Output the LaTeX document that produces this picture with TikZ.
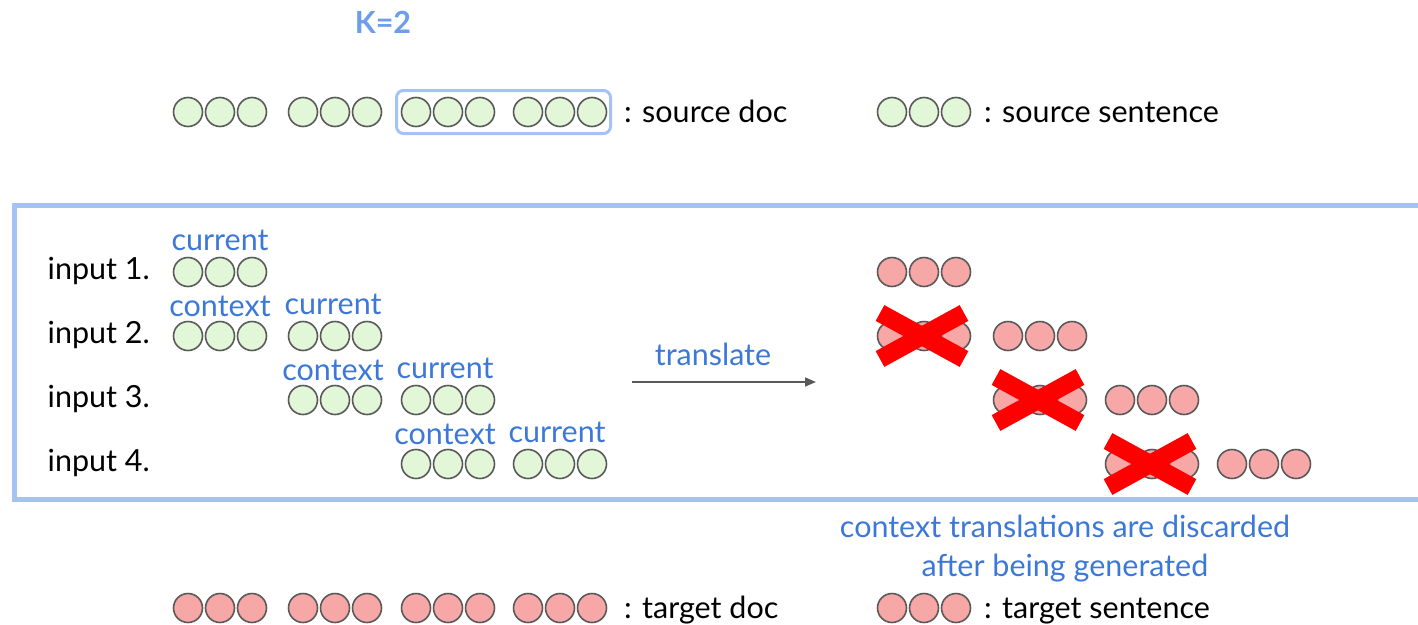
\documentclass[tikz,border=0pt]{standalone}
\usepackage{fontspec}
\setmainfont{Lato}
\usetikzlibrary{arrows.meta}
\definecolor{tokline}{HTML}{595959}
\definecolor{srcfill}{HTML}{E2F6D8}
\definecolor{tgtfill}{HTML}{F8A7A7}
\definecolor{labelblue}{HTML}{3C78D8}
\definecolor{kblue}{HTML}{6D9EEB}
\definecolor{frameblue}{HTML}{A4C2F4}
\definecolor{arrowgray}{HTML}{595959}
\tikzset{
  tok/.style={circle, draw=tokline, line width=1.6pt, minimum size=29pt, inner sep=0pt},
  srctok/.style={tok, fill=srcfill},
  tgttok/.style={tok, fill=tgtfill},
  txt/.style={font=\fontsize{30.5}{36}\selectfont, text=black, inner sep=0pt, anchor=base west},
  rowlbl/.style={txt, anchor=base east},
  bluelbl/.style={font=\fontsize{30.5}{36}\selectfont, text=labelblue, inner sep=0pt, anchor=base},
  crossbar/.style={draw=red, line width=18pt, line cap=butt},
  framebox/.style={draw=frameblue, line width=5pt},
  windowbox/.style={draw=frameblue, line width=3pt, rounded corners=7pt},
  flow/.style={draw=arrowgray, line width=1.6pt, -{Triangle[length=11pt,width=9pt]}}
}
% three tokens of one sentence: name, style, x of first token, y
\newcommand{\tokgroup}[4]{%
  \foreach \i in {0,1,2}{\node[#2] (#1-\i) at ({#3+32*\i},#4) {};}}
% red cross over a sentence, centred on its middle token
\newcommand{\strike}[1]{%
  \draw[crossbar] ([shift={(-44,-23)}]#1-1.center) -- ([shift={(40,23)}]#1-1.center);
  \draw[crossbar] ([shift={(-44,23)}]#1-1.center) -- ([shift={(40,-23)}]#1-1.center);}
\begin{document}
\begin{tikzpicture}[x=1pt,y=-1pt]
\useasboundingbox (0,0) rectangle (1418,624);

% window size
\node[font=\bfseries\fontsize{30.5}{36}\selectfont, text=kblue, inner sep=0pt, anchor=base] (k) at (383,33) {K=2};

% source document and window of K sentences
\tokgroup{sd1}{srctok}{188}{112}
\tokgroup{sd2}{srctok}{303}{112}
\tokgroup{sd3}{srctok}{416}{112}
\tokgroup{sd4}{srctok}{528}{112}
\draw[windowbox] (396.5,90.5) rectangle (610.5,133.5);
\node[txt] (srcdoc) at (624,122) {: source doc};
\tokgroup{ls}{srctok}{892}{112}
\node[txt] (srcsent) at (984,122) {: source sentence};

% frame around the inputs
\draw[framebox] (1420,205.5) -- (14,205.5) -- (14,499.5) -- (1420,499.5);

% inputs
\node[rowlbl] (in1) at (150,279) {input 1.};
\node[rowlbl] (in2) at (150,343) {input 2.};
\node[rowlbl] (in3) at (150,407) {input 3.};
\node[rowlbl] (in4) at (150,471) {input 4.};

\tokgroup{a1}{srctok}{188}{272}
\node[bluelbl] (a1cur) at (220,250) {current};

\tokgroup{a2c}{srctok}{188}{336}
\tokgroup{a2}{srctok}{303}{336}
\node[bluelbl] (a2ctx) at (220,316) {context};
\node[bluelbl] (a2cur) at (333,314) {current};

\tokgroup{a3c}{srctok}{303}{400}
\tokgroup{a3}{srctok}{416}{400}
\node[bluelbl] (a3ctx) at (333,380) {context};
\node[bluelbl] (a3cur) at (445,378) {current};

\tokgroup{a4c}{srctok}{416}{464}
\tokgroup{a4}{srctok}{528}{464}
\node[bluelbl] (a4ctx) at (445,444) {context};
\node[bluelbl] (a4cur) at (557,442) {current};

% translation step
\coordinate (tstart) at (632,382);
\coordinate (tend) at (816,382);
\draw[flow] (tstart) -- (tend);
\node[bluelbl] (tr) at (713,365) {translate};

% outputs
\tokgroup{b1}{tgttok}{892}{272}
\tokgroup{b2c}{tgttok}{892}{336}
\tokgroup{b2}{tgttok}{1008}{336}
\tokgroup{b3c}{tgttok}{1008}{400}
\tokgroup{b3}{tgttok}{1120}{400}
\tokgroup{b4c}{tgttok}{1120}{464}
\tokgroup{b4}{tgttok}{1232}{464}
\strike{b2c}
\strike{b3c}
\strike{b4c}

\node[bluelbl] (note1) at (1065,537) {context translations are discarded};
\node[bluelbl] (note2) at (1065,576) {after being generated};

% target document
\tokgroup{td1}{tgttok}{188}{608}
\tokgroup{td2}{tgttok}{303}{608}
\tokgroup{td3}{tgttok}{416}{608}
\tokgroup{td4}{tgttok}{528}{608}
\node[txt] (tgtdoc) at (624,618) {: target doc};
\tokgroup{lt}{tgttok}{892}{608}
\node[txt] (tgtsent) at (984,618) {: target sentence};
\end{tikzpicture}
\end{document}
